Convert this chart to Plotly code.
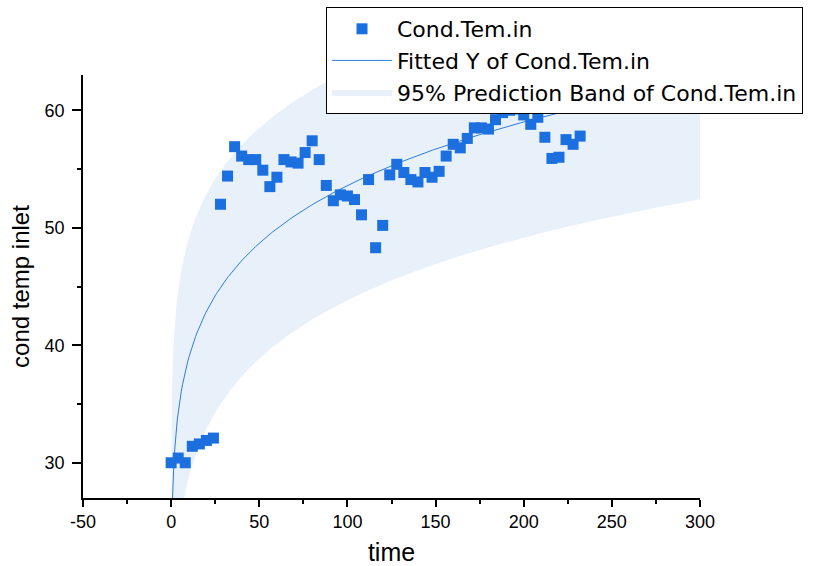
import numpy as np
import plotly.graph_objects as go

# ---- data ----
time = list(range(0, 233, 4))
cond_temp_inlet = [
    30.0, 30.4, 30.0, 31.4, 31.6, 31.9, 32.1, 52.0, 54.4, 56.9,
    56.1, 55.8, 55.8, 54.9, 53.5, 54.3, 55.8, 55.6, 55.5, 56.4,
    57.4, 55.8, 53.6, 52.3, 52.8, 52.7, 52.4, 51.1, 54.1, 48.3,
    50.2, 54.5, 55.4, 54.7, 54.1, 53.9, 54.7, 54.3, 54.8, 56.1,
    57.1, 56.8, 57.6, 58.5, 58.5, 58.4, 59.2, 59.8, 60.0, 60.1,
    59.6, 58.8, 59.4, 57.7, 55.9, 56.0, 57.5, 57.1, 57.8,
]
x_tick_vals = [-50, 0, 50, 100, 150, 200, 250, 300]
x_tick_text = ["-50", "0", "50", "100", "150", "200", "250", "300"]
y_tick_vals = [30, 40, 50, 60]
y_tick_text = ["30", "40", "50", "60"]

t_all = np.array(time, float)
y_all = np.array(cond_temp_inlet, float)
# allometric fit uses points with time > 0
mask = t_all > 0
t = t_all[mask]
y = y_all[mask]

# ---- allometric fit y = a * t^b (Gauss-Newton) ----
def model(tt, a, b):
    return a * np.power(tt, b)

def jac(tt, a, b):
    pw = np.power(tt, b)
    return np.column_stack([pw, a * pw * np.log(tt)])

a, b = 27.0, 0.146
for _ in range(100):
    r = y - model(t, a, b)
    J = jac(t, a, b)
    step = np.linalg.lstsq(J, r, rcond=None)[0]
    a, b = a + step[0], b + step[1]
res = y - model(t, a, b)
n, p = len(t), 2
s2 = float(res @ res) / (n - p)
J = jac(t, a, b)
cov = s2 * np.linalg.inv(J.T @ J)
tcrit = 2.003

tc = np.concatenate([np.geomspace(1e-4, 5, 200), np.linspace(5, 300, 400)[1:]])
Jc = jac(tc, a, b)
yc = model(tc, a, b)
half = tcrit * np.sqrt(s2 + np.einsum("ij,jk,ik->i", Jc, cov, Jc))
lower = yc - half
upper = yc + half

BLUE = "#1B6FDE"
BAND = "#E8F0FA"
FONT = "Arial, Liberation Sans, sans-serif"
LEGFONT = "DejaVu Sans, Arial, sans-serif"

fig = go.Figure()
fig.add_trace(go.Scatter(x=tc, y=lower, mode="lines", line=dict(width=0, color=BAND),
                         showlegend=False, hoverinfo="skip"))
fig.add_trace(go.Scatter(x=tc, y=upper, mode="lines", line=dict(width=0, color=BAND),
                         fill="tonexty", fillcolor=BAND,
                         name="95% Prediction Band of Cond.Tem.in", legendrank=3))
fig.add_trace(go.Scatter(x=tc, y=yc, mode="lines", line=dict(color="#2F7BE0", width=1),
                         name="Fitted Y of Cond.Tem.in", legendrank=2))
fig.add_trace(go.Scatter(x=time, y=cond_temp_inlet, mode="markers",
                         marker=dict(symbol="square", size=11, color=BLUE, line=dict(width=0)),
                         name="Cond.Tem.in", legendrank=1))

axis_common = dict(
    showline=True, linecolor="black", linewidth=1.5, mirror=False,
    ticks="outside", tickwidth=1.5, tickcolor="black",
    showgrid=False, zeroline=False, automargin=False,
    tickfont=dict(family=FONT, size=18, color="black"),
)
fig.update_xaxes(range=[-50, 300], tickvals=x_tick_vals, ticktext=x_tick_text, ticklen=7,
                 minor=dict(dtick=25, ticks="outside", ticklen=4, tickwidth=1.5, tickcolor="black"),
                 title=dict(text="time", font=dict(family=FONT, size=25, color="black"), standoff=12),
                 **axis_common)
fig.update_yaxes(range=[27, 63], tickvals=y_tick_vals, ticktext=y_tick_text, ticklen=9,
                 ticklabelstandoff=4,
                 minor=dict(dtick=5, ticks="outside", ticklen=4, tickwidth=1.5, tickcolor="black"),
                 title=dict(text="cond temp inlet", font=dict(family=FONT, size=24, color="black"), standoff=8),
                 **axis_common)

fig.update_layout(
    width=825, height=566,
    margin=dict(l=83, r=125, t=75, b=68, autoexpand=False),
    paper_bgcolor="white", plot_bgcolor="white",
    font=dict(family=FONT, color="black"),
    legend=dict(x=(326 - 83) / 617, y=(498 - 7) / 423, xanchor="left", yanchor="top",
                bgcolor="white", bordercolor="black", borderwidth=1,
                font=dict(family=LEGFONT, size=22, color="black"),
                itemwidth=60, tracegroupgap=0, traceorder="normal"),
)

fig.write_html("out.html")
